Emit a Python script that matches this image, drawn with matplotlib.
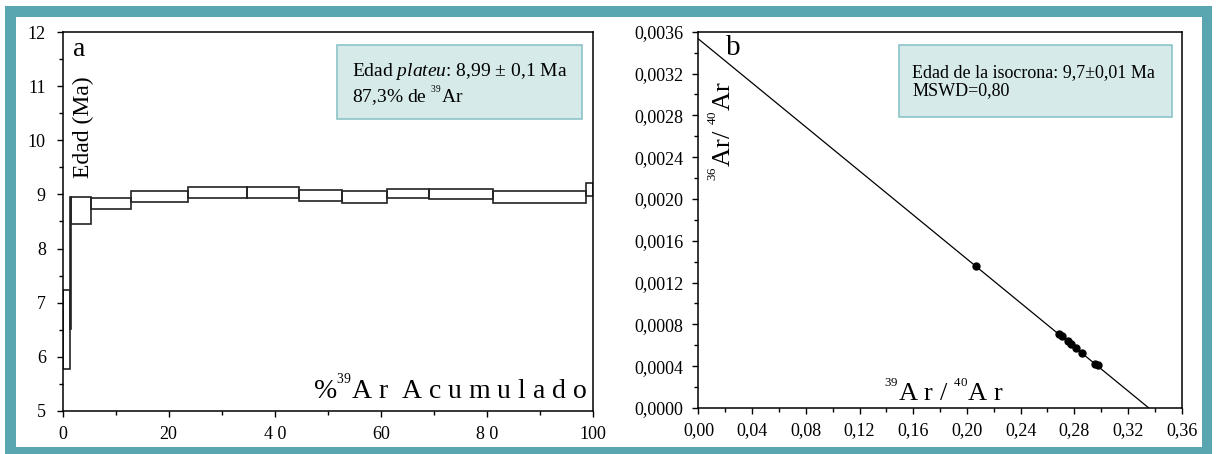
import matplotlib.pyplot as plt
from matplotlib.patches import Rectangle
from matplotlib.ticker import MultipleLocator, FuncFormatter

plt.rcParams['font.family'] = ['Liberation Serif', 'DejaVu Serif']
plt.rcParams['mathtext.fontset'] = 'custom'
plt.rcParams['mathtext.rm'] = 'Liberation Serif'
plt.rcParams['mathtext.it'] = 'Liberation Serif:italic'

# Espectro de edades: % 39Ar acumulado (inicio / fin) y edad minima / maxima de cada paso
pct_inicio = [0.0, 1.5, 1.6, 5.3, 13.0, 23.6, 34.8, 44.5, 52.6, 61.2, 69.1, 81.2, 98.7]
pct_fin = [1.5, 1.6, 5.3, 13.0, 23.6, 34.8, 44.5, 52.6, 61.2, 69.1, 81.2, 98.7, 100.0]
edad_min = [5.77, 6.51, 8.46, 8.74, 8.86, 8.94, 8.93, 8.88, 8.85, 8.93, 8.92, 8.85, 8.97]
edad_max = [7.23, 8.96, 8.96, 8.94, 9.07, 9.14, 9.13, 9.08, 9.06, 9.10, 9.11, 9.06, 9.21]

# Isocrona inversa: puntos medidos y recta ajustada (intersecciones con los ejes)
ar39_ar40 = [0.2065, 0.2685, 0.2710, 0.2750, 0.2775, 0.2815, 0.2860, 0.2955, 0.2975]
ar36_ar40 = [0.00136, 0.00071, 0.00069, 0.00064, 0.00061, 0.00057, 0.00053, 0.00042, 0.00041]
recta_x = [0.0, 0.3355]
recta_y = [0.00353, 0.0]

teal = '#5aa6b0'
caja_fondo = '#d5eae9'
caja_borde = '#8cc3c8'

# superindice pequeño (isotopos)
def sup(n):
    return r'${}^{{}^{' + n + r'}}$'

fig = plt.figure(figsize=(12.16, 4.54), dpi=100)
fig.patch.set_facecolor('white')

# marco exterior
fig.add_artist(Rectangle((5 / 1216, 0), 1207 / 1216, 448 / 454, transform=fig.transFigure,
                         facecolor=teal, edgecolor='none', zorder=-2))
fig.add_artist(Rectangle((16 / 1216, 7 / 454), 1186 / 1216, 430 / 454, transform=fig.transFigure,
                         facecolor='white', edgecolor='none', zorder=-1))

ax1 = fig.add_axes([0.0514, 0.0954, 0.4363, 0.8335])
ax2 = fig.add_axes([0.5744, 0.1013, 0.3974, 0.8289])

for ax in (ax1, ax2):
    for s in ax.spines.values():
        s.set_linewidth(1.1)
    ax.tick_params(which='both', direction='out', top=False, right=False, labelsize=13, width=1.0)
    ax.tick_params(which='major', length=4)
    ax.tick_params(which='minor', length=3)

# --- a: espectro de edades ---
for x0, x1, lo, hi in zip(pct_inicio, pct_fin, edad_min, edad_max):
    ax1.add_patch(Rectangle((x0, lo), x1 - x0, hi - lo, fill=False, edgecolor='#222222', linewidth=1.2))

ax1.set_xlim(0, 100)
ax1.set_ylim(5, 12)
ax1.set_xticks([0, 20, 40, 60, 80, 100], labels=['0', '20', '4 0', '60', '8 0', '100'])
ax1.xaxis.set_minor_locator(MultipleLocator(10))
ax1.yaxis.set_major_locator(MultipleLocator(1))
ax1.yaxis.set_minor_locator(MultipleLocator(0.5))
ax1.tick_params(axis='y', pad=8)
ax1.tick_params(axis='x', pad=7)

ax1.text(0.02, 0.937, 'a', transform=ax1.transAxes, fontsize=20, va='baseline')
ax1.text(0.04, 0.75, 'Edad (Ma)', transform=ax1.transAxes, fontsize=17, rotation=90,
         ha='center', va='center')
ax1.text(0.989, 0.031, '%' + sup('39') + 'A r  A c u m u l a d o', transform=ax1.transAxes,
         fontsize=20, ha='right', va='baseline')

ax1.add_patch(Rectangle((0.517, 0.771), 0.462, 0.195, transform=ax1.transAxes,
                        facecolor=caja_fondo, edgecolor=caja_borde, linewidth=1.2))
ax1.text(0.545, 0.885, r'Edad $\mathit{plateu}$: 8,99 ± 0,1 Ma', transform=ax1.transAxes,
         fontsize=14, va='baseline')
ax1.text(0.545, 0.813, '87,3% de ' + sup('39') + 'Ar', transform=ax1.transAxes,
         fontsize=14, va='baseline')

# --- b: isocrona ---
ax2.plot(recta_x, recta_y, color='black', linewidth=0.9)
ax2.plot(ar39_ar40, ar36_ar40, 'o', color='black', markersize=5)

ax2.set_xlim(0, 0.36)
ax2.set_ylim(0, 0.0036)
ax2.xaxis.set_major_locator(MultipleLocator(0.04))
ax2.xaxis.set_minor_locator(MultipleLocator(0.02))
ax2.yaxis.set_major_locator(MultipleLocator(0.0004))
ax2.yaxis.set_minor_locator(MultipleLocator(0.0002))
ax2.xaxis.set_major_formatter(FuncFormatter(lambda v, _: f'{v:.2f}'.replace('.', ',')))
ax2.yaxis.set_major_formatter(FuncFormatter(lambda v, _: f'{v:.4f}'.replace('.', ',')))
ax2.tick_params(axis='y', pad=7)
ax2.tick_params(axis='x', pad=6)

ax2.text(0.057, 0.937, 'b', transform=ax2.transAxes, fontsize=21, va='baseline')
ax2.text(0.051, 0.737, sup('36') + 'Ar/ ' + sup('40') + 'Ar', transform=ax2.transAxes, fontsize=19,
         rotation=90, ha='center', va='center')
ax2.text(0.508, 0.019, sup('39') + 'A r / ' + sup('40') + 'A r', transform=ax2.transAxes, fontsize=19,
         ha='center', va='baseline')

ax2.add_patch(Rectangle((0.414, 0.774), 0.565, 0.191, transform=ax2.transAxes,
                        facecolor=caja_fondo, edgecolor=caja_borde, linewidth=1.2))
ax2.text(0.442, 0.880, 'Edad de la isocrona: 9,7±0,01 Ma', transform=ax2.transAxes,
         fontsize=13, va='baseline')
ax2.text(0.442, 0.832, 'MSWD=0,80', transform=ax2.transAxes, fontsize=13, va='baseline')

fig.savefig('out.png', dpi=100)
